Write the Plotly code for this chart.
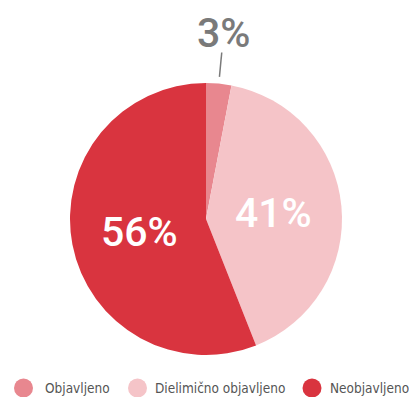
import math
import plotly.graph_objects as go

categories = ["Objavljeno", "Dielimično objavljeno", "Neobjavljeno"]
values = [3, 41, 56]
colors = ["#e8878f", "#f5c4c8", "#d9343f"]

W, H = 409, 397
CX, CY, R = 206, 219, 136  # pie centre and radius in pixels (from top-left)

PCT_FONT = "Roboto, sans-serif"
LEGEND_FONT = "DejaVu Sans Condensed, sans-serif"

fig = go.Figure()
fig.add_trace(go.Pie(
    labels=categories,
    values=values,
    marker=dict(colors=colors, line=dict(width=0)),
    sort=False,
    direction="clockwise",
    rotation=0,
    textinfo="none",
    hoverinfo="label+percent",
    showlegend=False,
    domain=dict(x=[(CX - R) / W, (CX + R) / W],
                y=[(H - CY - R) / H, (H - CY + R) / H]),
))


def px_to_paper(x, y):
    return x / W, 1 - y / H


total = sum(values)
cum = 0
annotations = []
shapes = []
for cat, v in zip(categories, values):
    pct = round(100 * v / total)
    mid = (cum + v / 2) / total * 2 * math.pi  # clockwise from top
    cum += v
    sx, sy = math.sin(mid), -math.cos(mid)
    if pct < 10:
        # small slice: grey label outside with a leader line
        x0, y0 = CX + sx * R * 1.05, CY + sy * R * 1.05
        x1, y1 = CX + sx * R * 1.23, CY + sy * R * 1.23
        p0, p1 = px_to_paper(x0, y0), px_to_paper(x1, y1)
        shapes.append(dict(type="line", xref="paper", yref="paper",
                           x0=p0[0], y0=p0[1], x1=p1[0], y1=p1[1],
                           line=dict(color="#7a7a7a", width=1.5)))
        tx, ty = CX + sx * R * 1.375, CY + sy * R * 1.375
        color = "#7a7a7a"
    else:
        tx, ty = CX + sx * R * 0.5, CY + sy * R * 0.5
        color = "#ffffff"
    px, py = px_to_paper(tx, ty)
    annotations.append(dict(text=f"{pct}%", x=px, y=py, xref="paper", yref="paper",
                            showarrow=False, xanchor="center", yanchor="middle",
                            font=dict(family=PCT_FONT, size=41, color=color, weight=500)))

# legend row with circular swatches
legend_y = 388
legend_items = [(23.5, 43), (137.5, 153), (312, 328)]
for (cx, tx), cat, col in zip(legend_items, categories, colors):
    r = 9.5
    a0 = px_to_paper(cx - r, legend_y - r)
    a1 = px_to_paper(cx + r, legend_y + r)
    shapes.append(dict(type="circle", xref="paper", yref="paper",
                       x0=a0[0], y0=a1[1], x1=a1[0], y1=a0[1],
                       fillcolor=col, line=dict(width=0)))
    p = px_to_paper(tx, legend_y)
    annotations.append(dict(text=cat, x=p[0], y=p[1], xref="paper", yref="paper",
                            showarrow=False, xanchor="left", yanchor="middle",
                            font=dict(family=LEGEND_FONT, size=13.5, color="#555555")))

fig.update_layout(
    width=W, height=H,
    margin=dict(l=0, r=0, t=0, b=0),
    paper_bgcolor="white",
    plot_bgcolor="white",
    annotations=annotations,
    shapes=shapes,
)

fig.write_html("out.html")
